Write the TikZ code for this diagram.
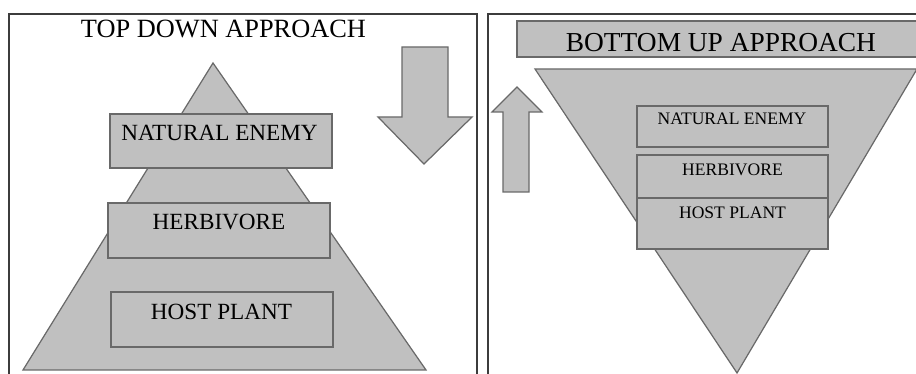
\documentclass[tikz,border=0pt]{standalone}
\usepackage{fontspec}
\setmainfont{Liberation Serif}
\definecolor{pyrgray}{RGB}{192,192,192}
\definecolor{edgegray}{RGB}{105,105,105}
\definecolor{framegray}{RGB}{60,60,60}

\begin{document}
\begin{tikzpicture}[x=0.02cm, y=-0.02cm,
    layer/.style={draw=edgegray, fill=pyrgray, line width=0.7pt, inner sep=0pt},
    bigbox/.style={layer, minimum width=4.44cm},
    smallbox/.style={layer, minimum width=3.82cm},
    bigtext/.style={font=\fontsize{13.2}{15}\selectfont, inner sep=0pt},
    smalltext/.style={font=\fontsize{10}{12}\selectfont, inner sep=0pt}]
    \useasboundingbox (0,0) rectangle (916,374);
    \clip (0,0) rectangle (916,374);

    % --- Frames ---
    \draw[framegray, line width=0.6pt] (9,380) -- (9,14) -- (477,14) -- (477,380);
    \draw[framegray, line width=0.6pt] (488,380) -- (488,14) -- (925,14);

    % --- Top down: pyramid and arrow ---
    \node[font=\fontsize{15}{18}\selectfont, inner sep=0pt] (tdtitle) at (223.5,29) {TOP DOWN APPROACH};
    \filldraw[layer] (213,63) -- (426,370) -- (23,370) -- cycle;
    \filldraw[layer] (402,47) -- (448,47) -- (448,117) -- (472,117)
      -- (424,164) -- (378,117) -- (402,117) -- cycle;

    \node[bigbox, minimum height=1.08cm] (tdenemy) at (221,141) {};
    \node[bigbox, minimum height=1.10cm] (tdherb) at (219,230.5) {};
    \node[bigbox, minimum height=1.10cm] (tdhost) at (222,319.5) {};
    \node[bigtext] (tdenemytext) at (219.5,133) {NATURAL ENEMY};
    \node[bigtext] (tdherbtext) at (219,222) {HERBIVORE};
    \node[bigtext] (tdhosttext) at (221.5,312) {HOST PLANT};

    % --- Bottom up: inverted pyramid and arrow ---
    \node[layer, minimum width=8.16cm, minimum height=0.72cm] (butitlebox) at (721,39) {};
    \node[font=\fontsize{15.6}{18}\selectfont, inner sep=0pt] (butitle) at (721,43) {BOTTOM UP APPROACH};
    \filldraw[layer] (535,69) -- (917,69) -- (737,373) -- cycle;
    \filldraw[layer] (503,192) -- (529,192) -- (529,112) -- (542,112)
      -- (517,87) -- (492,112) -- (503,112) -- cycle;

    \node[smallbox, minimum height=0.82cm] (buenemy) at (732.5,126.5) {};
    \node[smallbox, minimum height=0.86cm] (buherb) at (732.5,176.5) {};
    \node[smallbox, minimum height=1.02cm] (buhost) at (732.5,223.5) {};
    \node[smalltext] (buenemytext) at (732,119) {NATURAL ENEMY};
    \node[smalltext] (buherbtext) at (732.5,170) {HERBIVORE};
    \node[smalltext] (buhosttext) at (732.5,213) {HOST PLANT};
\end{tikzpicture}
\end{document}
